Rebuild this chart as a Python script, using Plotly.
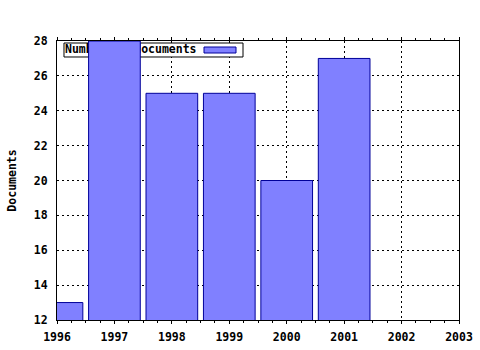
import plotly.graph_objects as go

years = [1996, 1997, 1998, 1999, 2000, 2001]
documents = [13, 28, 25, 25, 20, 27]
series_name = "Number of documents"
x_ticks = [1996, 1997, 1998, 1999, 2000, 2001, 2002, 2003]
y_ticks = [12, 14, 16, 18, 20, 22, 24, 26, 28]

FONT = "DejaVu Sans Mono"
FILL = "#8080ff"
EDGE = "#000099"
X_RANGE = [x_ticks[0], x_ticks[-1]]
Y_RANGE = [y_ticks[0], y_ticks[-1]]

def xfrac(f):
    return X_RANGE[0] + f * (X_RANGE[1] - X_RANGE[0])

def yfrac(f):
    return Y_RANGE[0] + f * (Y_RANGE[1] - Y_RANGE[0])

fig = go.Figure()

# legend label on the main axes (drawn below the bars, as in the reference)
fig.add_trace(go.Scatter(
    x=[xfrac(0.0199)], y=[yfrac(0.9677)], mode="text", text=["<b>" + series_name + "</b>"],
    textposition="middle right", textfont=dict(family=FONT, size=11.5, color="black"),
    showlegend=False, hoverinfo="skip", cliponaxis=False))

fig.add_trace(go.Bar(
    x=years, y=documents, name=series_name, width=0.9,
    marker=dict(color=FILL, line=dict(color=EDGE, width=1)),
    xaxis="x2", yaxis="y2", showlegend=False))

axis_font = dict(family=FONT, size=11.5, color="black")
fig.update_layout(
    width=480, height=350,
    margin=dict(l=57, r=21, t=41, b=30, pad=0, autoexpand=False),
    paper_bgcolor="white", plot_bgcolor="white",
    font=axis_font,
    showlegend=False,
    xaxis=dict(
        range=X_RANGE, tickvals=x_ticks, ticktext=["<b>%d</b>" % v for v in x_ticks],
        showline=True, linecolor="black", linewidth=1, mirror="ticks",
        ticks="outside", ticklen=3, tickcolor="black", tickwidth=1,
        minor=dict(dtick=0.25, ticks="outside", ticklen=2, tickcolor="black", showgrid=False),
        showgrid=True, gridcolor="black", gridwidth=1, griddash="2px,3px",
        zeroline=False, tickfont=axis_font, ticklabelstandoff=3, automargin=False,
    ),
    yaxis=dict(
        range=Y_RANGE, tickvals=y_ticks, ticktext=["<b>%d</b>" % v for v in y_ticks],
        showline=True, linecolor="black", linewidth=1, mirror=True,
        ticks="", showgrid=True, gridcolor="black", gridwidth=1, griddash="2px,3px",
        zeroline=False, tickfont=axis_font, ticklabelstandoff=6, automargin=False,
        title=dict(text="<b>Documents</b>", font=axis_font, standoff=14),
    ),
    xaxis2=dict(range=X_RANGE, overlaying="x", visible=False, automargin=False),
    yaxis2=dict(range=Y_RANGE, overlaying="y", visible=False, automargin=False),
    shapes=[
        dict(type="rect", xref="x", yref="y", layer="between",
             x0=xfrac(0.0174), x1=xfrac(0.4627), y0=yfrac(0.9427), y1=yfrac(0.9928),
             fillcolor="white", line=dict(color="black", width=1)),
        dict(type="rect", xref="x", yref="y", layer="between",
             x0=xfrac(0.3657), x1=xfrac(0.4453), y0=yfrac(0.957), y1=yfrac(0.9785),
             fillcolor=FILL, line=dict(color=EDGE, width=1)),
    ],
)

fig.write_html("out.html")
